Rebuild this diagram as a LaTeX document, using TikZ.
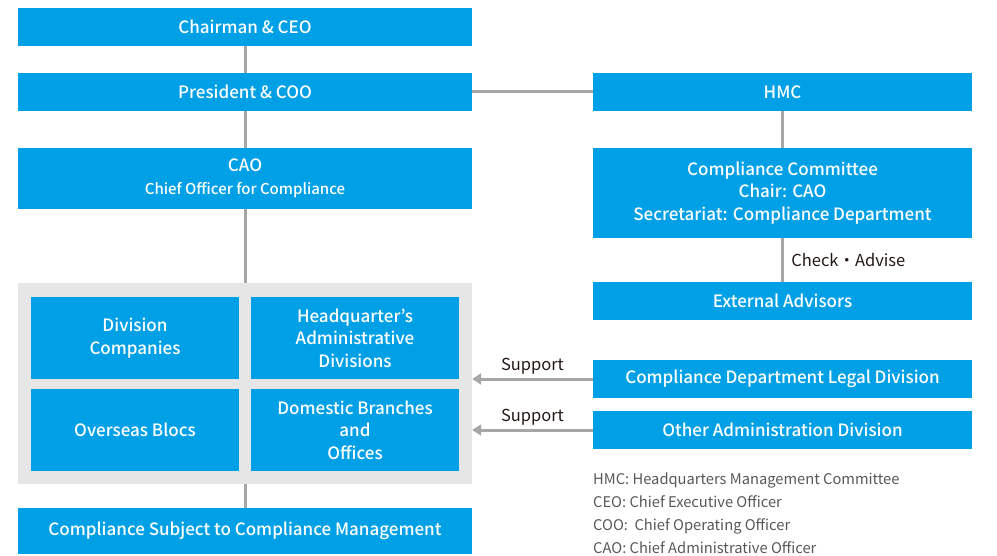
\documentclass[tikz,border=0pt]{standalone}
\usepackage{fontspec}
\setmainfont{Noto Sans CJK JP}[BoldFont={Noto Sans CJK JP Medium}]
\usepackage{tikz}
\usetikzlibrary{arrows.meta}
\definecolor{boxblue}{RGB}{0,160,230}
\definecolor{linegray}{RGB}{166,166,166}
\definecolor{groupgray}{RGB}{230,230,230}
\definecolor{textdark}{RGB}{35,24,21}
\definecolor{notegray}{RGB}{89,87,87}
\tikzstyle{box} = [fill=boxblue, text=white, font=\bfseries\fontsize{17}{22.5}\selectfont, align=center, inner sep=0pt]
\tikzstyle{wide} = [box, minimum width=454pt, minimum height=38pt]
\tikzstyle{side} = [box, minimum width=379pt, minimum height=38pt]
\tikzstyle{link} = [line width=3pt, draw=linegray]
\tikzstyle{support} = [link, -{Triangle[length=9pt,width=11pt]}]
\tikzstyle{label} = [text=textdark, font=\fontsize{16.5}{20}\selectfont]

\begin{document}
\begin{tikzpicture}[x=1pt, y=-1pt]
        \tikzstyle{unit} = [box, minimum width=208pt, minimum height=82pt]
        \tikzstyle{group} = [fill=groupgray, minimum width=454pt, minimum height=201pt, inner sep=0pt]

        \useasboundingbox (0,0) rectangle (997,556);

        % left column
        \node (chair) at (245, 27) [wide] {Chairman \& CEO};
        \node (pres) at (245, 92) [wide] {President \& COO};
        \node (cao) at (245, 178.5) [wide, minimum height=61pt] {CAO\\[1pt]{\fontsize{15}{20}\selectfont Chief Officer for Compliance}};
        \node (grp) at (245, 383.5) [group] {};
        \node (div) at (135, 338) [unit] {Division\\Companies};
        \node (hq) at (355, 338) [unit] {Headquarter’s\\Administrative\\Divisions};
        \node (over) at (135, 430) [unit] {Overseas Blocs};
        \node (dom) at (355, 430) [unit] {Domestic Branches\\and\\Offices};
        \node (subj) at (245, 531) [wide, minimum height=46pt] {Compliance Subject to Compliance Management};

        % right column
        \node (hmc) at (782.5, 92) [side] {HMC};
        \node (comm) at (782.5, 193) [side, minimum height=90pt] {Compliance Committee\\Chair: CAO\\Secretariat: Compliance Department};
        \node (ext) at (782.5, 301) [side] {External Advisors};
        \node (legal) at (782.5, 379) [side] {Compliance Department Legal Division};
        \node (other) at (782.5, 430) [side] {Other Administration Division};

        \draw[link] (chair) -- (pres);
        \draw[link] (pres) -- (cao);
        \draw[link] (cao) -- (grp);
        \draw[link] (grp) -- (subj);
        \draw[link] (pres) -- (hmc);
        \draw[link] (hmc) -- (comm);
        \draw[link] (comm) -- (ext) node[midway, right, xshift=4pt, label] {Check・Advise};

        \draw[support] (legal.west) -- (legal.west -| grp.east) node[midway, above, label] {Support};
        \draw[support] (other.west) -- (other.west -| grp.east) node[midway, above, label] {Support};

        \node (notes) at (593, 473) [anchor=north west, align=left, inner sep=0pt, text=notegray, font=\fontsize{14.7}{22.7}\selectfont]
            {HMC: Headquarters Management Committee\\CEO: Chief Executive Officer\\COO:\ \ Chief Operating Officer\\CAO: Chief Administrative Officer};
    \end{tikzpicture}
\end{document}
